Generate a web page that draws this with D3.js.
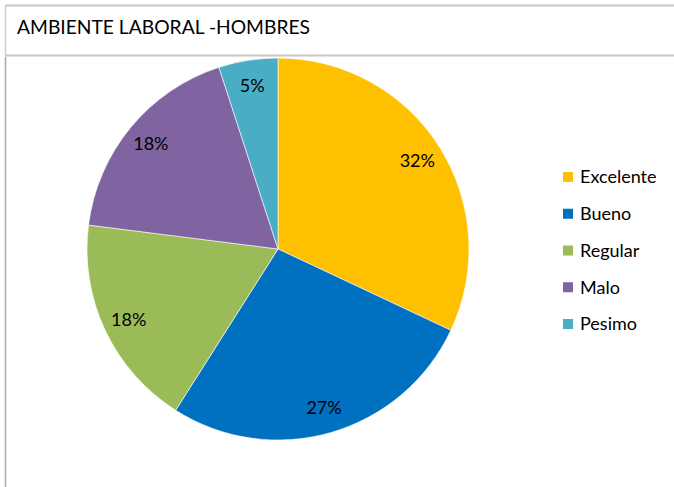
<!DOCTYPE html>
<html>
<head>
<meta charset="utf-8">
<script src="https://cdn.jsdelivr.net/npm/d3@7"></script>
<style>
  html, body { margin: 0; padding: 0; background: #fff; }
  svg { display: block; }
  text { font-family: Lato, "Open Sans", sans-serif; fill: #000; }
</style>
</head>
<body>
<svg id="chart" width="674" height="487"></svg>
<script>
// Ambiente laboral – hombres
const title = "AMBIENTE LABORAL -HOMBRES";
const categories = ["Excelente", "Bueno", "Regular", "Malo", "Pesimo"];
const percents = [32, 27, 18, 18, 5];
const colors = ["#FFC000", "#0070C0", "#9BBB59", "#8064A2", "#4BACC6"];

const svg = d3.select("#chart");

// frame lines around the title band and the plot area
svg.append("line").attr("x1", 5).attr("x2", 674).attr("y1", 5.5).attr("y2", 5.5)
  .attr("stroke", "#c6c6c6").attr("stroke-width", 2);
svg.append("line").attr("x1", 5).attr("x2", 674).attr("y1", 55.5).attr("y2", 55.5)
  .attr("stroke", "#c6c6c6").attr("stroke-width", 2);
svg.append("line").attr("x1", 5.5).attr("x2", 5.5).attr("y1", 5).attr("y2", 55)
  .attr("stroke", "#cfcfcf").attr("stroke-width", 1.5);
svg.append("line").attr("x1", 5.5).attr("x2", 5.5).attr("y1", 57).attr("y2", 487)
  .attr("stroke", "#a8a8a8").attr("stroke-width", 1.5);

svg.append("text")
  .attr("x", 17).attr("y", 34)
  .attr("font-size", 20)
  .attr("textLength", 293).attr("lengthAdjust", "spacingAndGlyphs")
  .text(title);

// pie
const cx = 278, cy = 249, r = 191;
const data = categories.map((c, i) => ({ cat: c, value: percents[i], color: colors[i] }));
const pie = d3.pie().value(d => d.value).sort(null);
const arc = d3.arc().innerRadius(0).outerRadius(r);
const labelArc = d3.arc().innerRadius(165).outerRadius(165);

const g = svg.append("g").attr("transform", `translate(${cx},${cy})`);
const arcs = pie(data);

g.selectAll("path.slice").data(arcs).enter().append("path")
  .attr("class", "slice")
  .attr("d", arc)
  .attr("fill", d => d.data.color)
  .attr("stroke", "#ffffff")
  .attr("stroke-width", 0.6);

g.selectAll("text.pct").data(arcs).enter().append("text")
  .attr("class", "pct")
  .attr("transform", d => `translate(${labelArc.centroid(d)})`)
  .attr("text-anchor", "middle")
  .attr("dy", "0.35em")
  .attr("font-size", 18)
  .text(d => d.data.value + "%");

// legend
const legendY = d3.scalePoint().domain(categories).range([177, 324]);
const lg = svg.append("g");
const items = lg.selectAll("g.item").data(data).enter().append("g")
  .attr("class", "item")
  .attr("transform", d => `translate(563,${legendY(d.cat)})`);
items.append("rect")
  .attr("x", 0).attr("y", -5).attr("width", 10).attr("height", 10)
  .attr("fill", d => d.color);
items.append("text")
  .attr("x", 17).attr("dy", "0.35em")
  .attr("font-size", 18)
  .text(d => d.cat);
</script>
</body>
</html>
